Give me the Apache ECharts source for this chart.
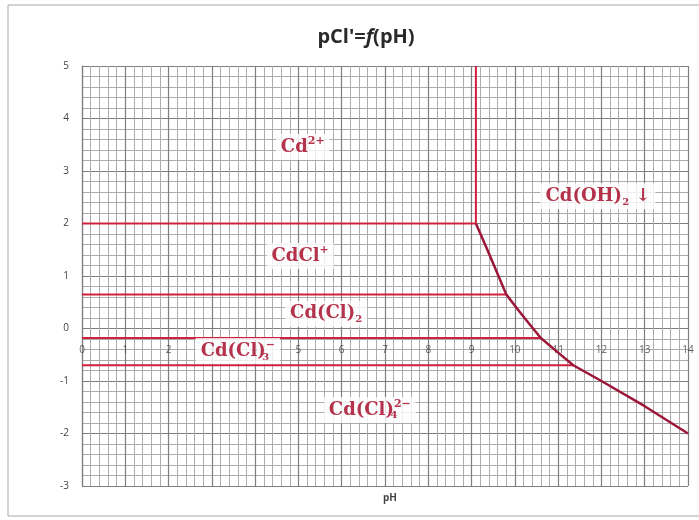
<!DOCTYPE html>
<html>
<head>
<meta charset="utf-8">
<script src="https://cdn.jsdelivr.net/npm/echarts@6/dist/echarts.min.js"></script>
<style>html,body{margin:0;padding:0;background:#fff}#c{width:699px;height:520px}</style>
</head>
<body>
<div id="c"></div>
<script>
// ---- data ----
const xTicks = [0,1,2,3,4,5,6,7,8,9,10,11,12,13,14];
const yTicks = [-3,-2,-1,0,1,2,3,4,5];
const boundaryLevels = [2, 0.65, -0.18, -0.7];      // pCl' of horizontal boundaries
const boundaryEnds   = [9.1, 9.8, 10.6, 11.35];     // pH where each boundary meets the curve
const verticalPH = [9.1, 9.1];
const verticalPCl = [2, 5];
const curvePH  = [9.1, 9.35, 9.58, 9.8, 10.1, 10.35, 10.6, 11.0, 11.35, 12, 13, 14];
const curvePCl = [2, 1.53, 1.08, 0.65, 0.33, 0.07, -0.18, -0.46, -0.7, -1.0, -1.48, -2];
const labelX = [5.1, 5.04, 5.64, 3.6, 6.65, 11.92];
const labelY = [3.46, 1.38, 0.28, -0.43, -1.55, 2.52];
const labelText = [
  '{m|Cd}{sup|2+}',
  '{m|CdCl}{sup|+}',
  '{m|Cd(Cl)}{sub|2}',
  '{m|Cd(Cl)}{subz|3}{sup|−}',
  '{m|Cd(Cl)}{subz|4}{sup|2−}',
  '{m|Cd(OH)}{sub|2}{m| ↓}'
];

const red = '#d11f3d';
const dark = '#9c1638';
const txtRed = '#a3001f';
const serif = 'DejaVu Serif';

function rs(size, lh, va, extra) {
  return Object.assign({ fontFamily: serif, fontWeight: 'bold', fontSize: size, color: txtRed,
    lineHeight: lh, verticalAlign: va, textBorderWidth: 0, textBorderColor: 'transparent' }, extra || {});
}

const series = [];
boundaryLevels.forEach((lv, i) => {
  series.push({
    type: 'line', symbol: 'none', silent: true,
    lineStyle: { color: red, width: 2 },
    data: [[0, lv], [boundaryEnds[i], lv]]
  });
});
series.push({
  type: 'line', symbol: 'none', silent: true,
  lineStyle: { color: red, width: 2 },
  data: verticalPH.map((x, i) => [x, verticalPCl[i]])
});
series.push({
  type: 'line', symbol: 'none', silent: true,
  lineStyle: { color: dark, width: 2.5 },
  data: curvePH.map((x, i) => [x, curvePCl[i]])
});
// x tick labels sit under the zero line, as in the reference
series.push({
  type: 'scatter', symbolSize: 0, silent: true, z: 1,
  data: xTicks.map(x => [x, 0]),
  label: {
    show: true, position: 'bottom', distance: 17,
    formatter: p => String(p.value[0]),
    fontFamily: 'Open Sans', fontSize: 10, color: '#3a3a3a',
    textBorderWidth: 0
  }
});
series.push({
  type: 'scatter', symbolSize: 0, silent: true, z: 5,
  data: labelX.map((x, i) => ({ value: [x, labelY[i]], name: labelText[i] })),
  label: {
    show: true, position: 'inside',
    formatter: p => p.name,
    backgroundColor: '#fff',
    padding: [2, 5, 2, 5],
    color: txtRed, textBorderWidth: 0, textBorderColor: 'transparent',
    rich: {
      m: rs(18, 22, 'middle'),
      sup: rs(11, 14, 'top'),
      sub: rs(10, 12, 'bottom'),
      subz: rs(10, 12, 'bottom', { width: 0, align: 'left' })
    }
  }
});

const chart = echarts.init(document.getElementById('c'), null, { renderer: 'canvas' });
chart.setOption({
  backgroundColor: '#fff',
  animation: false,
  title: [
    {
      text: "{a|pCl'=}{b|f}{a|(pH)}",
      left: 361, top: 22, textAlign: 'center',
      textStyle: {
        rich: {
          a: { fontFamily: 'Open Sans', fontWeight: 'bold', fontSize: 20, color: '#2a2a2a' },
          b: { fontFamily: 'Open Sans', fontWeight: 'bold', fontStyle: 'italic', fontSize: 20, color: '#2a2a2a' }
        }
      }
    },
    {
      text: 'pH', left: 385, top: 488, textAlign: 'center',
      textStyle: { fontFamily: 'Open Sans', fontWeight: 'bold', fontSize: 10, color: '#444' }
    }
  ],
  graphic: [{
    type: 'rect', silent: true, z: -1,
    shape: { x: 8, y: 5, width: 700, height: 511 },
    style: { fill: 'none', stroke: '#a8a8a8', lineWidth: 1 }
  }],
  grid: { left: 82, right: 11, top: 66, bottom: 34 },
  xAxis: {
    type: 'value', min: xTicks[0], max: xTicks[xTicks.length - 1], interval: 1,
    axisLine: { show: false },
    axisTick: { show: false },
    axisLabel: { show: false },
    splitLine: { show: true, lineStyle: { color: '#7e7e7e', width: 1.2 } },
    minorTick: { show: false, splitNumber: 5 },
    minorSplitLine: { show: true, lineStyle: { color: '#acacac', width: 1 } }
  },
  yAxis: {
    type: 'value', min: yTicks[0], max: yTicks[yTicks.length - 1], interval: 1,
    axisLine: { show: true, onZero: false, lineStyle: { color: '#7e7e7e', width: 1.2 } },
    axisTick: { show: false },
    axisLabel: { margin: 13, fontFamily: 'Open Sans', fontSize: 10, color: '#444', formatter: v => yTicks.includes(v) ? String(v) : '' },
    splitLine: { show: true, lineStyle: { color: '#7e7e7e', width: 1.2 } },
    minorTick: { show: false, splitNumber: 5 },
    minorSplitLine: { show: true, lineStyle: { color: '#acacac', width: 1 } }
  },
  series: series
});
</script>
</body>
</html>
